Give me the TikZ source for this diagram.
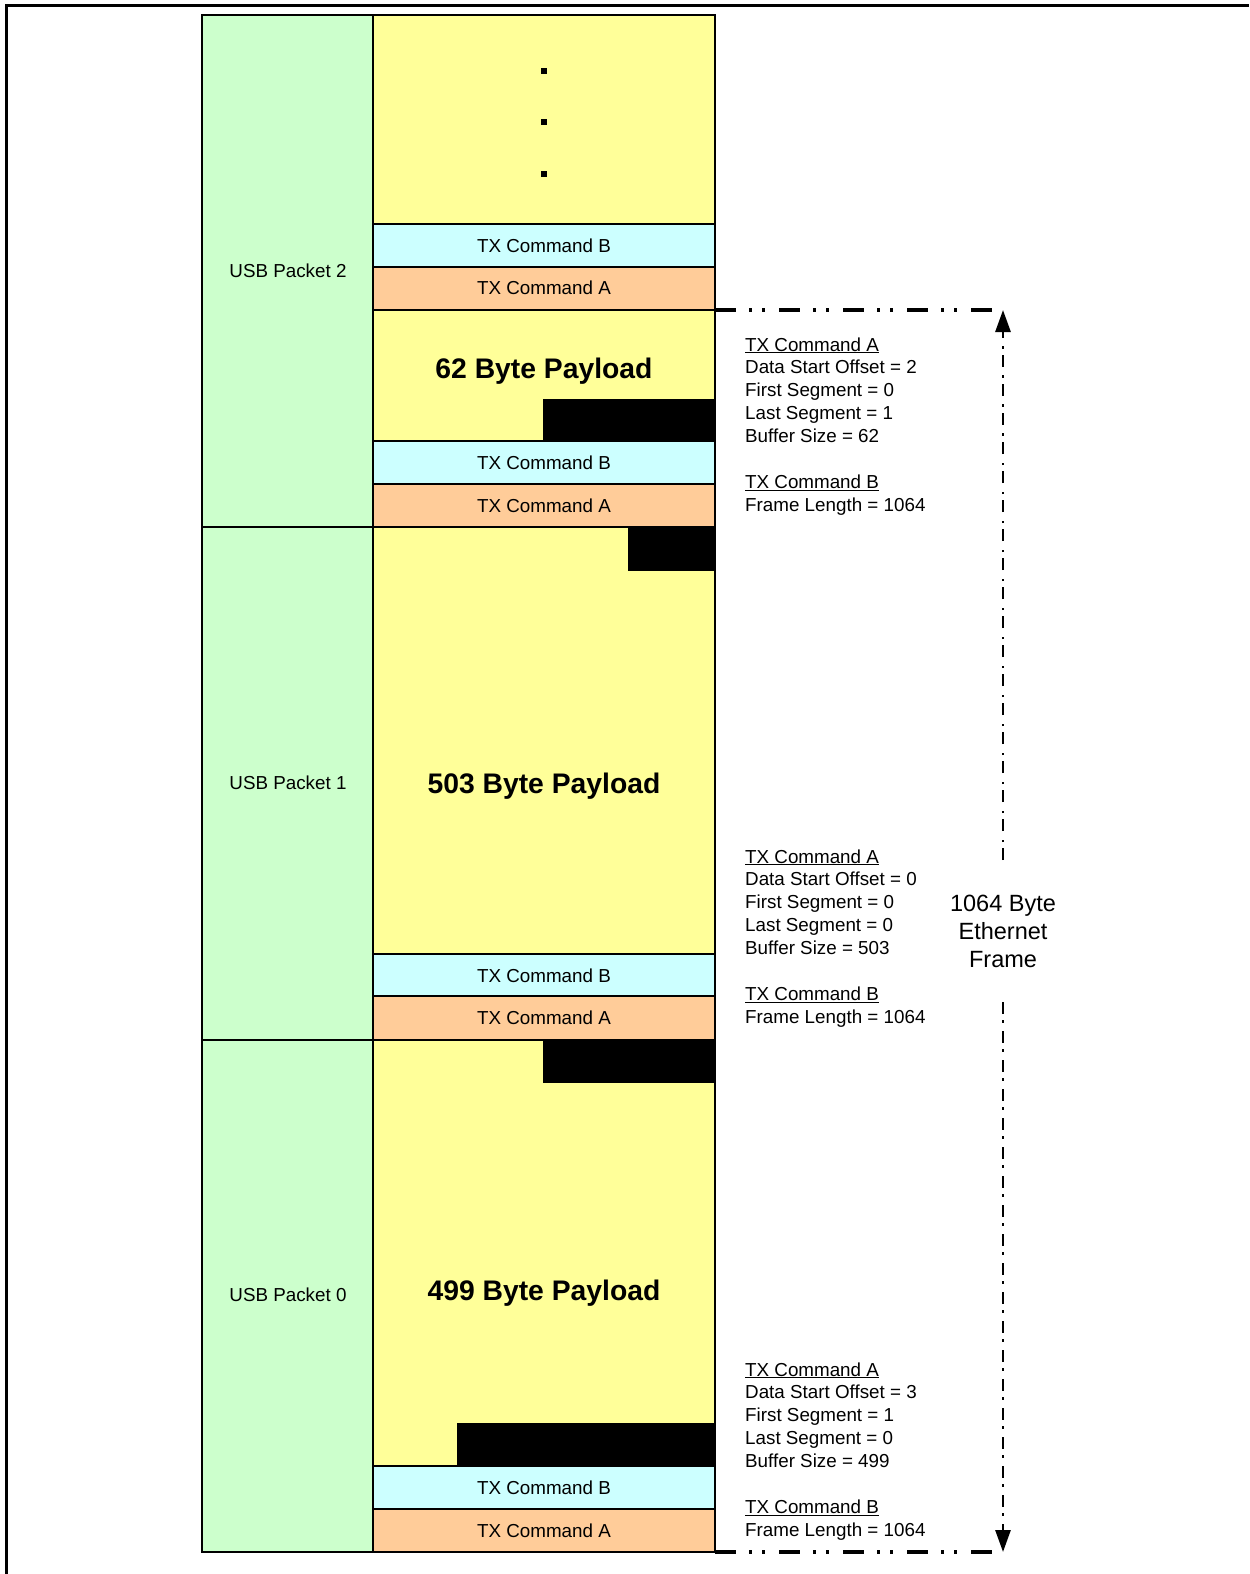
\documentclass[tikz,border=0pt]{standalone}
\usepackage{fontspec}
\setmainfont{Liberation Sans}
\usetikzlibrary{arrows.meta}
\definecolor{usbgreen}{HTML}{CCFFCC}
\definecolor{payyellow}{HTML}{FFFF99}
\definecolor{cmdb}{HTML}{CCFFFF}
\definecolor{cmda}{HTML}{FFCC99}
\tikzset{
  cellborder/.style={draw=black, line width=2.4bp},
  lbl/.style={inner sep=0pt, font=\fontsize{18.8bp}{23bp}\selectfont},
  paylbl/.style={inner sep=0pt, font=\fontsize{28.3bp}{34bp}\selectfont\bfseries},
  info/.style={anchor=base west, inner sep=0pt, font=\fontsize{18.8bp}{23bp}\selectfont},
  hframe/.style={line width=4bp, dash pattern=on 21bp off 13bp on 3bp off 10bp on 3bp off 14bp},
  vframe/.style={line width=2.8bp, dash pattern=on 12bp off 6bp on 2.5bp off 8.5bp},
  tip/.style={-{Triangle[width=15bp,length=22bp]}},
  blk/.style={fill=black},
}
\newcommand\infoblock[6]{%
  \node[info] (#1a) at (745,#2) {\underline{TX Command A}};
  \node[info] (#1b) at (745,#2+22.9) {Data Start Offset = #3};
  \node[info] (#1c) at (745,#2+45.8) {First Segment = #4};
  \node[info] (#1d) at (745,#2+68.7) {Last Segment = #5};
  \node[info] (#1e) at (745,#2+91.6) {Buffer Size = #6};
  \node[info] (#1f) at (745,#2+137.4) {\underline{TX Command B}};
  \node[info] (#1g) at (745,#2+160.3) {Frame Length = 1064};
}
\begin{document}
\begin{tikzpicture}[x=1bp,y=-1bp]
\useasboundingbox (0,0) rectangle (1249,1574);
% outer frame (open to the right and bottom)
\draw[line width=3bp] (6,1574) -- (6,6) -- (1249,6);

% fills
\fill[usbgreen] (202,15) rectangle (373,1552);
\fill[payyellow] (373,15) rectangle (715,1552);
% packet 2
\fill[cmdb] (373,224) rectangle (715,267);
\fill[cmda] (373,267) rectangle (715,310);
\fill[blk] (543,399) rectangle (715,441);
\fill[cmdb] (373,441) rectangle (715,484);
\fill[cmda] (373,484) rectangle (715,527);
% packet 1
\fill[blk] (628,527) rectangle (715,571);
\fill[cmdb] (373,954) rectangle (715,996);
\fill[cmda] (373,996) rectangle (715,1040);
% packet 0
\fill[blk] (543,1040) rectangle (715,1083);
\fill[blk] (457,1423) rectangle (715,1466);
\fill[cmdb] (373,1466) rectangle (715,1509);
\fill[cmda] (373,1509) rectangle (715,1552);

% dots
\fill (541,68) rectangle (547,74);
\fill (541,119) rectangle (547,125);
\fill (541,171) rectangle (547,177);

% borders
\draw[cellborder] (202,15) rectangle (715,1552);
\draw[cellborder] (373,15) -- (373,1552);
\draw[cellborder] (202,527) -- (715,527);
\draw[cellborder] (202,1040) -- (715,1040);
\foreach \yy in {224,267,310,441,484,954,996,1466,1509}
  \draw[cellborder] (373,\yy) -- (715,\yy);

% labels
\node[lbl] (usb2) at (288,271) {USB Packet 2};
\node[lbl] (usb1) at (288,783) {USB Packet 1};
\node[lbl] (usb0) at (288,1295) {USB Packet 0};
\foreach \nm/\yy/\tx in {b2/246/B,a2/288/A,b2b/463/B,a2b/506/A,b1/976/B,a1/1018/A,b0/1488/B,a0/1531/A}
  \node[lbl] (cmd\nm) at (544,\yy) {TX Command \tx};
\node[paylbl] (pay62) at (544,371) {62 Byte Payload};
\node[paylbl] (pay503) at (544,786) {503 Byte Payload};
\node[paylbl] (pay499) at (544,1293) {499 Byte Payload};

% info blocks
\infoblock{ia}{351}{2}{0}{1}{62}
\infoblock{ib}{863}{0}{0}{0}{503}
\infoblock{ic}{1376}{3}{1}{0}{499}

% frame dimension
\coordinate (hl0) at (715,310);
\coordinate (hr0) at (1003,310);
\coordinate (hl1) at (715,1552);
\coordinate (hr1) at (1003,1552);
\coordinate (gtop) at (1003,860);
\coordinate (gbot) at (1003,1002);
\draw[hframe] (hl0) -- (hr0);
\draw[hframe] (hl1) -- (hr1);
\draw[vframe, tip] (gtop) -- (hr0);
\draw[vframe, tip] (gbot) -- (hr1);
\node[align=center, inner sep=0pt, font=\fontsize{23.5bp}{28bp}\selectfont] (eth) at (1003,931) {1064 Byte\\Ethernet\\Frame};
\end{tikzpicture}
\end{document}
